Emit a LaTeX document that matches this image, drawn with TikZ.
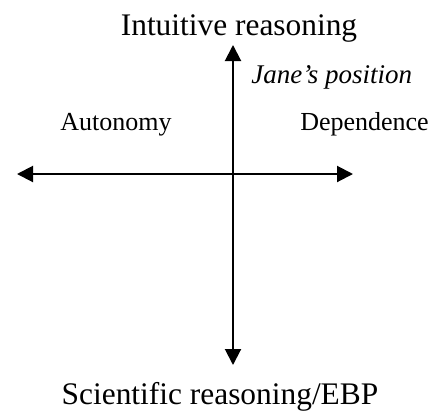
\documentclass[tikz,border=0pt]{standalone}
\usepackage{fontspec}
\setmainfont{Liberation Serif}
\usepackage{tikz}
\usetikzlibrary{arrows.meta,positioning}
\tikzset{
  axis/.style={{Triangle[length=8pt,width=8pt]}-{Triangle[length=8pt,width=8pt]}, line width=1pt},
  pole/.style={inner sep=0pt, font=\fontsize{15.7}{18}\selectfont},
  side/.style={inner sep=0pt, font=\fontsize{13}{15}\selectfont}
}
\begin{document}
\begin{tikzpicture}[x=0.5pt, y=-0.5pt]
\useasboundingbox (0,0) rectangle (442,412);
% ---- axis ends ----
\coordinate (top) at (233,45);
\coordinate (bot) at (233,365);
\coordinate (lft) at (17,174);
\coordinate (rgt) at (353,174);
% ---- labels ----
\node[pole, anchor=base] (intu) at (239,35) {Intuitive reasoning};
\node[pole, anchor=base] (scie) at (220,404) {Scientific reasoning/EBP};
\node[side, anchor=base west, font=\fontsize{13.5}{15}\selectfont\itshape] (jane) at (251,83) {Jane’s position};
\node[side, anchor=base] (auto) at (116,130) {Autonomy};
\node[side, anchor=base] (depe) at (364.5,130) {Dependence};
% ---- axes ----
\draw[axis] (lft) -- (rgt);
\draw[axis] (top) -- (bot);
\end{tikzpicture}
\end{document}
